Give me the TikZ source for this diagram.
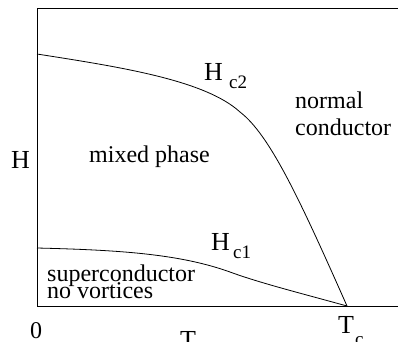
\documentclass[tikz,border=0pt]{standalone}
\usepackage{fontspec}
\newfontfamily\tms{Liberation Serif}
\begin{document}
\begin{tikzpicture}[x=1pt,y=-1pt,
  lbl/.style={inner sep=0pt,anchor=base west,font=\tms\fontsize{24}{24}\selectfont},
  big/.style={inner sep=0pt,anchor=base west,font=\tms\fontsize{26}{26}\selectfont},
  sub/.style={inner sep=0pt,anchor=base west,font=\tms\fontsize{19}{19}\selectfont},
  curve/.style={line width=0.8pt},
  frame/.style={line width=0.9pt}]
\useasboundingbox (0,0) rectangle (398,341);
\coordinate (tr) at (398,8);
\coordinate (tl) at (37,8);
\coordinate (bl) at (37,306);
\coordinate (br) at (398,306);
\coordinate (tc) at (347,306);
\coordinate (h2) at (37,54);
\coordinate (h2m) at (240,112);
\coordinate (h1) at (37,248);
\coordinate (h1m) at (230,272);
\draw[frame] (tr) -- (tl) -- (bl) -- (br);
\draw[curve] (h2) .. controls (120,67) and (205,80) .. (h2m)
  .. controls (270,135) and (300,200) .. (tc);
\draw[curve] (h1) .. controls (120,250) and (180,254) .. (h1m)
  .. controls (260,283) and (300,293) .. (tc);
\node[big] (hax) at (11,168) {H};
\node[lbl] (mixed) at (89,162) {mixed phase};
\node[lbl] (sc1) at (47,281) {superconductor};
\node[lbl] (sc2) at (47,298) {no vortices};
\node[lbl] (nc1) at (295,108) {normal};
\node[lbl] (nc2) at (295,135) {conductor};
\node[big] (hc2) at (204,80) {H};
\node[sub] (hc2s) at (229,88) {c2};
\node[big] (hc1) at (211,250) {H};
\node[sub] (hc1s) at (233,258) {c1};
\node[lbl] (zero) at (30,338) {0};
\node[big] (tax) at (180,348) {T};
\node[big] (tcl) at (338,333) {T};
\node[sub] (tcs) at (355,345) {c};
\end{tikzpicture}
\end{document}
